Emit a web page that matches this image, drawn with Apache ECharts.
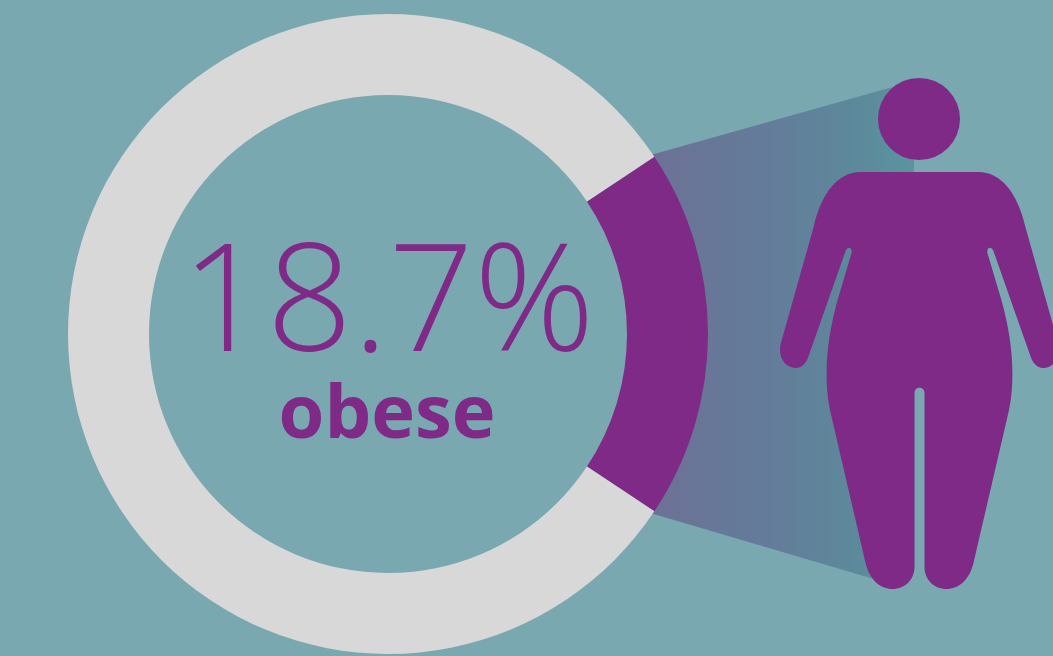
<!DOCTYPE html>
<html>
<head>
<meta charset="utf-8">
<style>html,body{margin:0;padding:0;background:#7aa8b0;overflow:hidden}#chart{width:1053px;height:656px}</style>
<script src="https://cdn.jsdelivr.net/npm/echarts@6/dist/echarts.min.js"></script>
</head>
<body>
<div id="chart"></div>
<script>
// Share of people who are obese against everyone else
const categories = ['obese', 'other'];
const shareValues = [18.7, 81.3];

const PURPLE = '#7f2a87';
const GREY = '#d8d8d8';
const TEAL = '#7aa8b0';

// Silhouette outline, symmetric about x = 919
const bodyOutline =
  'M860 172 L978 172 C1000 172 1017 192 1025 227 L1058 344 ' +
  'C1061 358 1053 368 1043 368 C1036 368 1032 362 1030 356 L993 251 ' +
  'C991 246 986 247 987 253 L1001 300 C1008 325 1012 350 1012 373 ' +
  'C1012 392 1010 405 1007 417 L973 563 C969 580 958 589 946 589 ' +
  'C934 589 924 580 924 567 L924 393 C924 386 914 386 914 393 L914 567 ' +
  'C914 580 904 589 892 589 C880 589 869 580 865 563 L831 417 ' +
  'C828 405 826 392 826 373 C826 350 830 325 837 300 L851 253 ' +
  'C852 247 847 246 845 251 L808 356 C806 362 802 368 795 368 ' +
  'C785 368 777 358 780 344 L813 227 C821 192 838 172 860 172 Z';

const chart = echarts.init(document.getElementById('chart'), null, { renderer: 'canvas' });

chart.setOption({
  animation: false,
  backgroundColor: TEAL,
  series: [
    {
      type: 'pie',
      z: 2,
      center: [388, 334],
      radius: [239, 320],
      // Keeps the highlighted slice centred on the right-hand side
      startAngle: shareValues[0] * 3.6 / 2,
      silent: true,
      label: { show: false },
      labelLine: { show: false },
      data: categories.map((name, i) => ({
        name,
        value: shareValues[i],
        itemStyle: { color: i === 0 ? PURPLE : GREY }
      }))
    },
    {
      // Beam joining the slice to the figure
      type: 'custom',
      coordinateSystem: 'none',
      z: 1,
      silent: true,
      data: [[0]],
      renderItem: () => ({
        type: 'polygon',
        shape: { points: [[640, 158], [914, 81], [914, 500], [884, 582], [640, 510]] },
        style: {
          fill: {
            type: 'linear', x: 650, y: 0, x2: 914, y2: 0, global: true,
            colorStops: [
              { offset: 0, color: '#6c7195' },
              { offset: 0.45, color: '#647c9a' },
              { offset: 0.8, color: '#5c8a9b' },
              { offset: 1, color: '#5a959f' }
            ]
          }
        }
      })
    },
    {
      // The figure and the headline text
      type: 'custom',
      coordinateSystem: 'none',
      z: 3,
      silent: true,
      data: [[0]],
      renderItem: () => ({
        type: 'group',
        children: [
          { type: 'circle', shape: { cx: 919, cy: 119, r: 41 }, style: { fill: PURPLE } },
          {
            type: 'path',
            shape: { pathData: bodyOutline, layout: 'cover', x: 780, y: 172, width: 279, height: 417 },
            style: { fill: PURPLE }
          },
          {
            type: 'text', x: 388, y: 233,
            style: {
              text: shareValues[0] + '%',
              fill: PURPLE,
              font: '300 150px "Open Sans"',
              align: 'center',
              verticalAlign: 'top'
            }
          },
          {
            type: 'text', x: 387, y: 380,
            style: {
              text: categories[0],
              fill: PURPLE,
              font: '700 74px "Open Sans"',
              align: 'center',
              verticalAlign: 'top'
            }
          }
        ]
      })
    }
  ]
});
</script>
</body>
</html>
